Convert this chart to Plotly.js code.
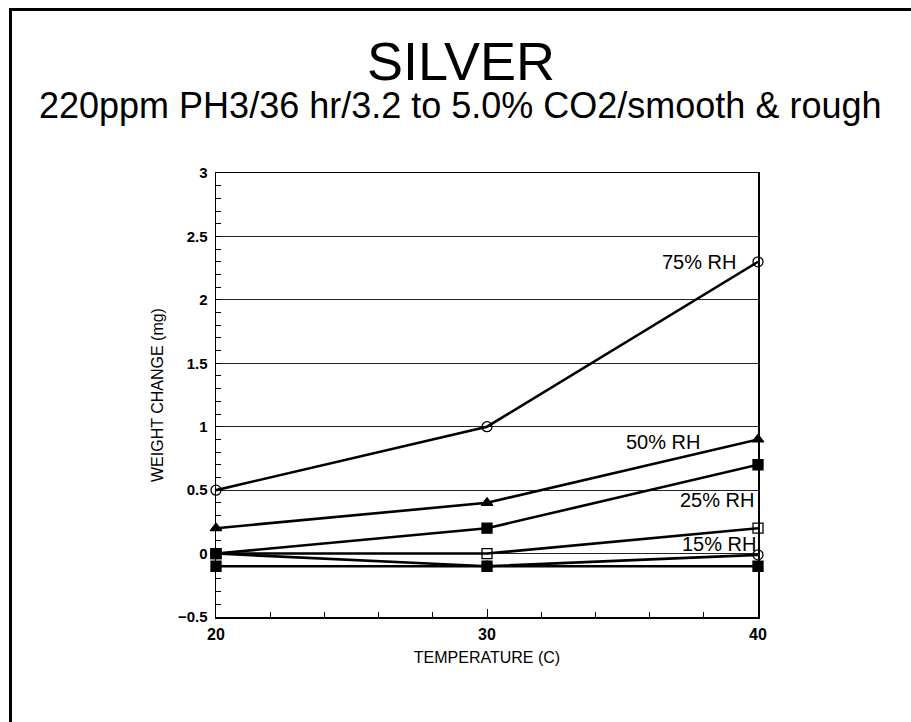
<!DOCTYPE html>
<html>
<head>
<meta charset="utf-8">
<script src="https://cdn.plot.ly/plotly-3.0.1.min.js"></script>
<style>
  html, body { margin: 0; padding: 0; background: #fff; }
  #chart { width: 911px; height: 722px; position: relative; }
  #frame { position: absolute; left: 9px; top: 8px; width: 920px; height: 730px;
           border-left: 3px solid #000; border-top: 3px solid #000; pointer-events: none; }
</style>
</head>
<body>
<div id="chart"></div>
<div id="frame"></div>
<script>
// Data
const temperatures = [20, 30, 40];
const rh75 = [0.5, 1.0, 2.3];        // open circles
const rh50 = [0.2, 0.4, 0.9];        // filled triangles
const rh25 = [0.0, 0.2, 0.7];        // filled squares
const rh25b = [0.0, 0.0, 0.2];       // open squares
const rh15 = [0.0, -0.1, -0.01];     // open circles
const rh15b = [-0.1, -0.1, -0.1];    // filled squares

const seriesLabels = ["75% RH", "50% RH", "25% RH", "15% RH"];
const labelX = [39.26, 37.93, 39.93, 40.0];
const labelY = [2.3, 0.88, 0.42, 0.075];

const SANS = "'Liberation Sans', Arial, Helvetica, sans-serif";

function tr(y, symbol) {
  return {
    x: temperatures, y: y, type: 'scatter', mode: 'lines+markers',
    line: {color: '#000', width: 2.6},
    marker: {symbol: symbol, size: 10, color: '#000', line: {color: '#000', width: 1.3}},
    cliponaxis: false, showlegend: false, hoverinfo: 'x+y'
  };
}

const data = [
  tr(rh15b, 'square'),
  tr(rh15, 'circle-open'),
  tr(rh25b, 'square-open'),
  tr(rh25, 'square'),
  tr(rh50, 'triangle-up'),
  tr(rh75, 'circle-open')
];

const annotations = seriesLabels.map((t, i) => ({
  x: labelX[i], y: labelY[i], xref: 'x', yref: 'y', text: t, showarrow: false,
  xanchor: 'right', yanchor: 'middle', font: {family: SANS, size: 20, color: '#000'}
}));
annotations.push({
  x: 0.452, y: 1.252, xref: 'paper', yref: 'paper', yanchor: 'middle',
  text: 'SILVER', showarrow: false, xanchor: 'center',
  font: {family: SANS, size: 54, color: '#000'}
});
annotations.push({
  x: 0.45, y: 1.152, xref: 'paper', yref: 'paper', yanchor: 'middle',
  text: '220ppm PH3/36 hr/3.2 to 5.0% CO2/smooth & rough', showarrow: false, xanchor: 'center',
  font: {family: SANS, size: 36, color: '#000'}
});

const layout = {
  width: 911, height: 722,
  margin: {l: 216, r: 153, t: 173, b: 105},
  paper_bgcolor: '#fff', plot_bgcolor: '#fff',
  showlegend: false,
  xaxis: {
    range: [20, 40], tickvals: [20, 30, 40], ticktext: ['20', '30', '40'],
    ticks: 'inside', ticklen: 8, tickwidth: 1, tickcolor: '#000',
    minor: {dtick: 2, ticks: 'inside', ticklen: 5, tickcolor: '#000', showgrid: false},
    showline: true, linecolor: '#000', linewidth: 1.5, mirror: true,
    showgrid: false, zeroline: false, ticklabelstandoff: 2,
    tickfont: {family: SANS, size: 16, color: '#000', weight: 'bold'},
    title: {text: 'TEMPERATURE (C)', font: {family: SANS, size: 16, color: '#000'}, standoff: 10}
  },
  yaxis: {
    range: [-0.5, 3], dtick: 0.5, tick0: 0,
    ticks: 'inside', ticklen: 5, tickcolor: '#000',
    minor: {dtick: 0.1, ticks: 'inside', ticklen: 5, tickcolor: '#000', showgrid: false},
    showline: true, linecolor: '#000', linewidth: 1.5, mirror: true,
    showgrid: true, gridcolor: '#222', gridwidth: 1, zeroline: false,
    ticklabelstandoff: 4,
    tickfont: {family: SANS, size: 15, color: '#000', weight: 'bold'},
    title: {text: 'WEIGHT CHANGE (mg)', font: {family: SANS, size: 16, color: '#000'}, standoff: 10}
  },
  annotations: annotations
};

Plotly.newPlot('chart', data, layout, {displayModeBar: false, staticPlot: true});
</script>
</body>
</html>
